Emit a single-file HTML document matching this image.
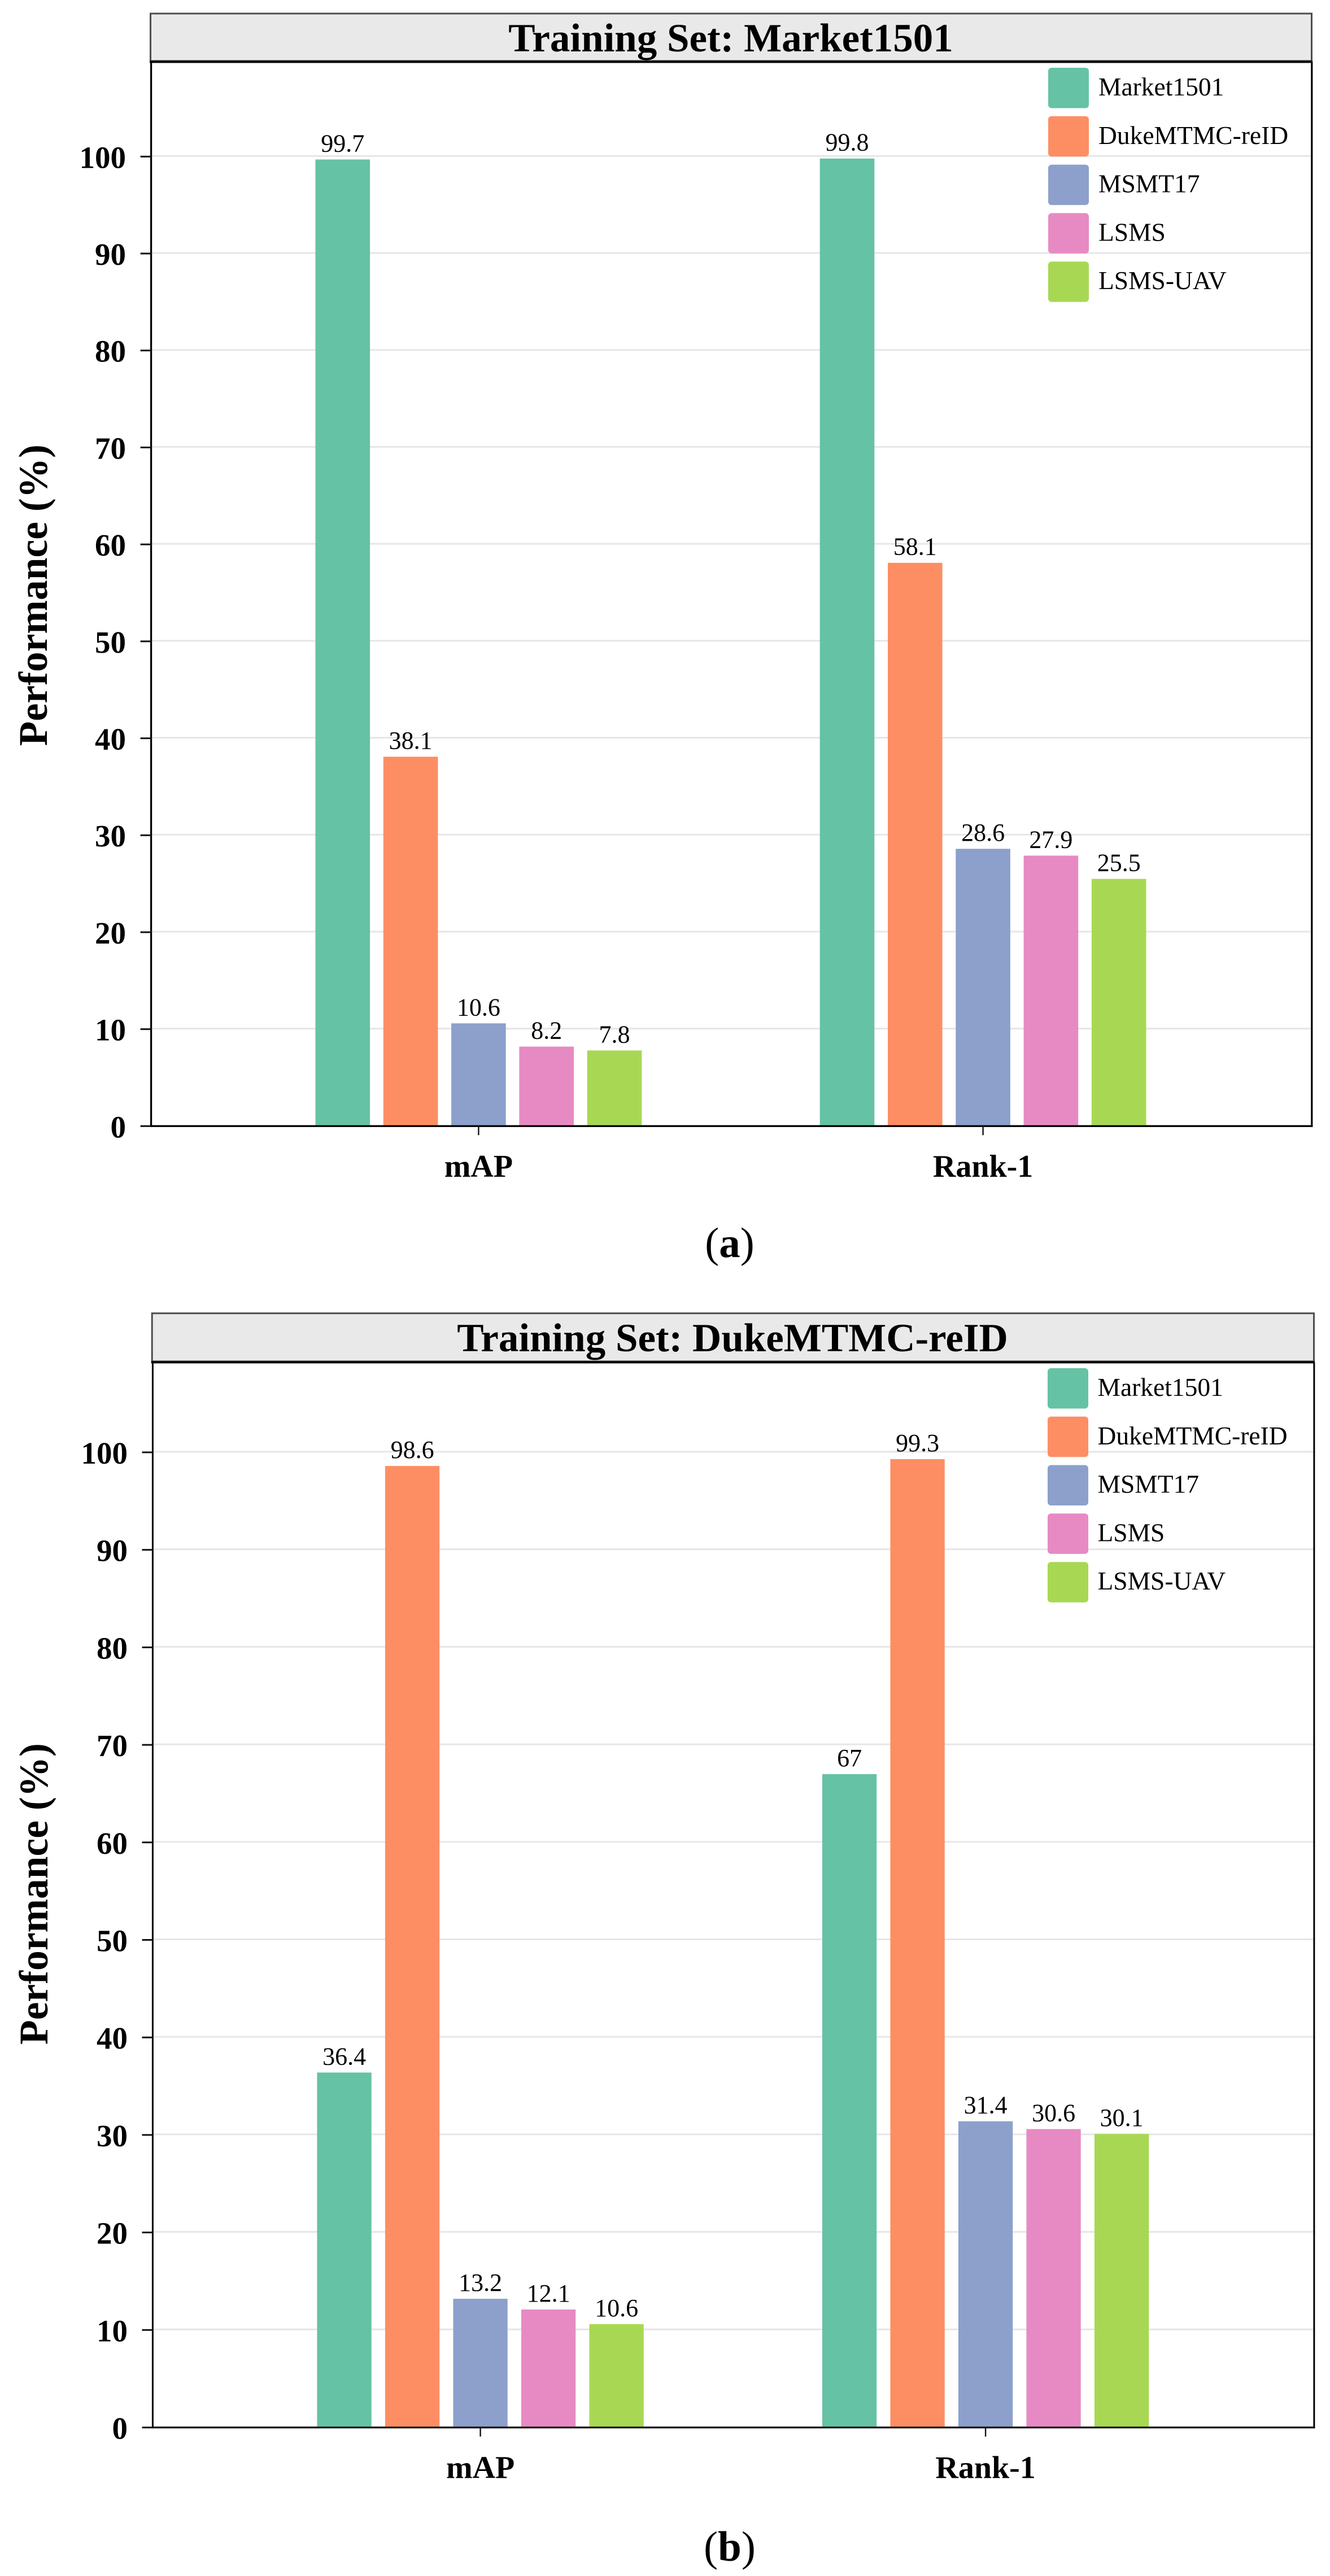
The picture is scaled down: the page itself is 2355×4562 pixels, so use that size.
<!DOCTYPE html>
<html lang="en">
<head>
<meta charset="utf-8">
<title>Cross-domain re-ID performance by training set</title>
<style>
html,body{margin:0;padding:0;background:#fff;width:2355px;height:4562px;overflow:hidden}
svg{display:block;font-family:"Liberation Serif","Times New Roman",serif}
</style>
</head>
<body>
<svg id="figure" xmlns="http://www.w3.org/2000/svg" width="2355" height="4562" viewBox="0 0 2355 4562"></svg>
<script>
const categories = ['mAP', 'Rank-1'];
const seriesNames = ['Market1501', 'DukeMTMC-reID', 'MSMT17', 'LSMS', 'LSMS-UAV'];
const yTickValues = [0, 10, 20, 30, 40, 50, 60, 70, 80, 90, 100];
const marketTrainMap = [99.7, 38.1, 10.6, 8.2, 7.8];
const marketTrainRank1 = [99.8, 58.1, 28.6, 27.9, 25.5];
const dukeTrainMap = [36.4, 98.6, 13.2, 12.1, 10.6];
const dukeTrainRank1 = [67, 99.3, 31.4, 30.6, 30.1];

const seriesColors = ['#66c2a5', '#fd8e63', '#8da0cb', '#e78ac3', '#a8d853'];
const NS = 'http://www.w3.org/2000/svg';
const root = document.getElementById('figure');

function make(tag, attrs, parent, text) {
  const el = document.createElementNS(NS, tag);
  for (const k in attrs) el.setAttribute(k, attrs[k]);
  if (text !== undefined) el.textContent = text;
  parent.appendChild(el);
  return el;
}

function drawPanel(p) {
  const y = v => p.baseY - v * p.unit;
  const x = (c, s) => p.firstCenter + c * p.catGap + (s - 2) * p.pitch;

  const g = make('g', {}, root);
  
  

  // gridlines
  yTickValues.forEach(v => {
    const line = make('rect', {x: p.left, y: y(v) - 2.5, width: p.right - p.left, height: 3, fill: '#e6e6e6'}, g);
    
    
  });

  // bars and printed values
  p.values.forEach((vals, c) => {
    vals.forEach((v, s) => {
      const bar = make('rect', {x: x(c, s) - p.barW / 2, y: y(v), width: p.barW, height: p.baseY - y(v), fill: seriesColors[s]}, g);
      
      
      const label = make('text', {x: x(c, s), y: y(v) - 14, 'text-anchor': 'middle', 'font-size': 44, fill: '#000'}, g, String(v));
      
      
    });
  });

  // spines
  const spineLeft = make('rect', {x: p.left - 1.6, y: p.titleBottom, width: p.spine, height: p.baseY - p.titleBottom + 1.6, fill: '#000'}, g);
  
  
  const spineRight = make('rect', {x: p.right - 1.6, y: p.titleBottom, width: p.spine, height: p.baseY - p.titleBottom + 1.6, fill: '#000'}, g);
  
  
  const spineBottom = make('rect', {x: p.left - 1.6, y: p.baseY - p.spine / 2, width: p.right - p.left + p.spine, height: p.spine, fill: '#000'}, g);
  
  

  // y ticks and labels
  yTickValues.forEach(v => {
    const tick = make('rect', {x: p.left - 19, y: y(v) - 1.5, width: 19, height: 3, fill: '#111'}, g);
    
    
    const lab = make('text', {x: p.tickLabelRight, y: y(v) + 20, 'text-anchor': 'end', 'font-size': 55, 'font-weight': 'bold', fill: '#000'}, g, String(v));
    
    
  });

  // x ticks and labels
  categories.forEach((cat, c) => {
    const tick = make('rect', {x: x(c, 2) - 1.2, y: p.baseY, width: 2.4, height: 16, fill: '#111'}, g);
    
    
    const lab = make('text', {x: x(c, 2), y: p.baseY + 89.5, 'text-anchor': 'middle', 'font-size': 56, 'font-weight': 'bold', fill: '#000'}, g, cat);
    
    
  });

  // y axis title
  const yTitle = make('text', {transform: 'translate(' + p.yTitleX + ' ' + p.yTitleY + ') rotate(-90)', 'text-anchor': 'middle', 'font-size': 71.5, 'font-weight': 'bold', fill: '#000'}, g, 'Performance (%)');
  
  

  // title strip
  const strip = make('rect', {x: p.stripLeft + 1.5, y: p.stripTop + 1.5, width: p.stripRight - p.stripLeft - 3, height: p.titleBottom - p.stripTop - 3, fill: '#e9e9e9', stroke: '#4d4d4d', 'stroke-width': 3}, g);
  
  
  const stripLine = make('rect', {x: p.stripLeft, y: p.titleBottom - 2, width: p.stripRight - p.stripLeft, height: 4, fill: '#000'}, g);
  
  
  const title = make('text', {x: p.titleX, y: p.titleBaseline, 'text-anchor': 'middle', 'font-size': 71, 'font-weight': 'bold', fill: '#000'}, g, p.title);
  
  

  // legend
  const legend = make('g', {}, g);
  
  
  seriesNames.forEach((name, s) => {
    const top = p.legendTop + s * p.legendPitch;
    const swatch = make('rect', {x: p.legendX, y: top, width: 72, height: 71.5, rx: 6, ry: 6, fill: seriesColors[s]}, legend);
    
    
    const text = make('text', {x: p.legendTextX, y: top + 49, 'font-size': 45.5, fill: '#000'}, legend, name);
    
    
  });

  // caption
  const caption = make('text', {x: p.captionX, y: p.captionY, 'text-anchor': 'middle', 'font-size': 75, fill: '#000'}, g);
  
  
  make('tspan', {}, caption, '(');
  make('tspan', {'font-weight': 'bold'}, caption, p.captionLetter);
  make('tspan', {}, caption, ')');
}

drawPanel({
  key: 'market', title: 'Training Set: Market1501', values: [marketTrainMap, marketTrainRank1],
  baseY: 1994.3, unit: 17.17, left: 267.6, right: 2322.8, spine: 3.2,
  firstCenter: 847.4, catGap: 893.2, pitch: 120.3, barW: 96.6,
  tickLabelRight: 223, yTitleX: 83, yTitleY: 1054,
  stripLeft: 265, stripRight: 2324, stripTop: 22.5, titleBottom: 109.5, titleX: 1294, titleBaseline: 91,
  legendX: 1856, legendTextX: 1945, legendTop: 120, legendPitch: 85.8,
  captionX: 1292, captionY: 2226, captionLetter: 'a'
});
drawPanel({
  key: 'duke', title: 'Training Set: DukeMTMC-reID', values: [dukeTrainMap, dukeTrainRank1],
  baseY: 4299, unit: 17.27, left: 270.5, right: 2327, spine: 3,
  firstCenter: 850.6, catGap: 894.5, pitch: 120.5, barW: 96.3,
  tickLabelRight: 226, yTitleX: 84, yTitleY: 3354,
  stripLeft: 267.7, stripRight: 2328, stripTop: 2324.3, titleBottom: 2412.5, titleX: 1297, titleBaseline: 2393,
  legendX: 1855, legendTextX: 1943.5, legendTop: 2423, legendPitch: 85.8,
  captionX: 1292, captionY: 4535, captionLetter: 'b'
});
</script>
</body>
</html>
